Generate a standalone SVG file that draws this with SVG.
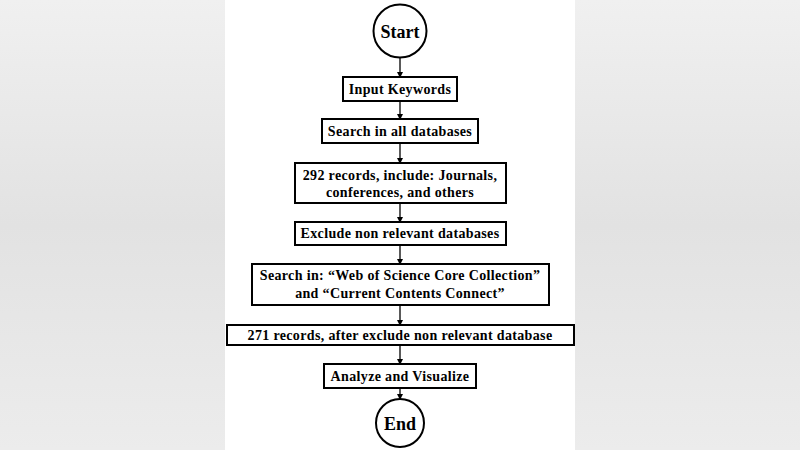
<svg xmlns="http://www.w3.org/2000/svg" width="800" height="450" viewBox="0 0 800 450">
<defs>
<style>
.n{fill:#fff;stroke:#000;stroke-width:2}
.t{font-family:"Liberation Serif",serif;font-weight:bold;font-size:14px;letter-spacing:0.35px;text-anchor:middle;fill:#000}
.c{stroke:#000;stroke-width:1.3;fill:none;marker-end:url(#a)}
</style>
<marker id="a" markerWidth="6" markerHeight="6" refX="5" refY="3" orient="auto" markerUnits="userSpaceOnUse"><path d="M0,0L6,3L0,6z" fill="#000"/></marker>
<linearGradient id="bg" x1="0" y1="0" x2="0" y2="1"><stop offset="0" stop-color="#f0f0f0"/><stop offset="0.5" stop-color="#e2e2e2"/><stop offset="1" stop-color="#ececec"/></linearGradient>
</defs>
<rect width="800" height="450" fill="url(#bg)"/>
<rect x="225" y="0" width="350" height="450" fill="#fff"/>
<g id="connectors">
<path class="c" d="M400,58V77"/>
<path class="c" d="M400,101V119"/>
<path class="c" d="M400,143V163"/>
<path class="c" d="M400,203V222"/>
<path class="c" d="M400,245V264"/>
<path class="c" d="M400,305V325"/>
<path class="c" d="M400,345V364"/>
<path class="c" d="M400,388V399"/>
</g>
<g id="start"><circle class="n" cx="400" cy="31" r="26.5"/><text class="t" x="400" y="38" style="font-size:18px;letter-spacing:0">Start</text></g>
<g id="input"><rect class="n" x="343" y="77" width="114" height="24"/><text class="t" x="400" y="94">Input Keywords</text></g>
<g id="searchall"><rect class="n" x="322" y="119" width="156" height="24"/><text class="t" x="400" y="136">Search in all databases</text></g>
<g id="records292"><rect class="n" x="295" y="163" width="211" height="40"/><text class="t" x="400" y="180">292 records, include: Journals,</text><text class="t" x="400" y="197">conferences, and others</text></g>
<g id="exclude"><rect class="n" x="295" y="222" width="211" height="23"/><text class="t" x="400" y="238">Exclude non relevant databases</text></g>
<g id="searchin"><rect class="n" x="252" y="264" width="297" height="41"/><text class="t" x="400" y="280">Search in: “Web of Science Core Collection”</text><text class="t" x="400" y="298">and “Current Contents Connect”</text></g>
<g id="records271"><rect class="n" x="227" y="325" width="347" height="20"/><text class="t" x="400" y="340">271 records, after exclude non relevant database</text></g>
<g id="analyze"><rect class="n" x="324" y="364" width="152" height="24"/><text class="t" x="400" y="381">Analyze and Visualize</text></g>
<g id="end"><circle class="n" cx="400" cy="423" r="24"/><text class="t" x="400" y="429.5" style="font-size:18px;letter-spacing:0">End</text></g>
</svg>
